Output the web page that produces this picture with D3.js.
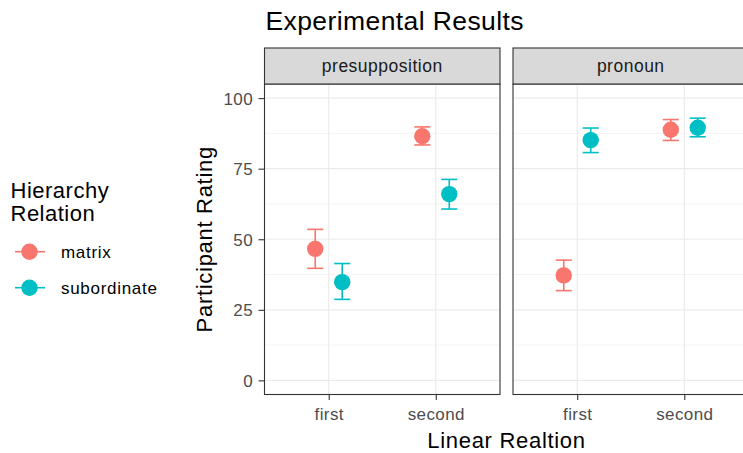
<!DOCTYPE html>
<html>
<head>
<meta charset="utf-8">
<script src="https://cdn.jsdelivr.net/npm/d3@7/dist/d3.min.js"></script>
<style>
  html, body { margin: 0; padding: 0; background: #ffffff; }
  svg { display: block; }
  text { font-family: "Liberation Sans", Arial, Helvetica, sans-serif; }
</style>
</head>
<body>
<div id="chart"></div>
<script>
// ---- data ----
const facets = ["presupposition", "pronoun"];
const linearLevels = ["first", "second"];
const hierarchyLevels = ["matrix", "subordinate"];
const seriesColors = ["#F8766D", "#00BFC4"];

// mean rating per facet, for [first, second]
const presuppositionMatrixMean = [46.6, 86.5];
const presuppositionMatrixLower = [39.7, 83.4];
const presuppositionMatrixUpper = [53.5, 89.8];
const presuppositionSubordinateMean = [34.8, 66.0];
const presuppositionSubordinateLower = [28.7, 60.7];
const presuppositionSubordinateUpper = [41.4, 71.2];

const pronounMatrixMean = [37.2, 88.8];
const pronounMatrixLower = [31.8, 85.0];
const pronounMatrixUpper = [42.6, 92.4];
const pronounSubordinateMean = [85.1, 89.5];
const pronounSubordinateLower = [80.7, 86.3];
const pronounSubordinateUpper = [89.4, 92.9];

const yTicks = [0, 25, 50, 75, 100];
const yMinor = [12.5, 37.5, 62.5, 87.5];

// ---- assemble rows ----
const table = {
  presupposition: {
    matrix: [presuppositionMatrixMean, presuppositionMatrixLower, presuppositionMatrixUpper],
    subordinate: [presuppositionSubordinateMean, presuppositionSubordinateLower, presuppositionSubordinateUpper]
  },
  pronoun: {
    matrix: [pronounMatrixMean, pronounMatrixLower, pronounMatrixUpper],
    subordinate: [pronounSubordinateMean, pronounSubordinateLower, pronounSubordinateUpper]
  }
};
const rows = [];
facets.forEach(f => hierarchyLevels.forEach(h => linearLevels.forEach((l, i) => {
  const [m, lo, hi] = table[f][h];
  rows.push({ facet: f, hierarchy: h, linear: l, mean: m[i], lower: lo[i], upper: hi[i] });
})));

// ---- layout ----
const W = 743, H = 453;
const panelW = 235.5, panelGap = 13;
const panelLeft0 = 264.5;
const stripTop = 48, panelTop = 84, panelBottom = 394.5;
const ink = "#333333", tickGrey = "#4D4D4D", gridCol = "#EBEBEB";

const svg = d3.select("#chart").append("svg")
  .attr("width", W).attr("height", H);

const y = d3.scaleLinear().domain([-5, 105]).range([panelBottom, panelTop]);
const color = d3.scaleOrdinal().domain(hierarchyLevels).range(seriesColors);

// title
svg.append("text")
  .attr("x", 265.5).attr("y", 29.5)
  .attr("font-size", 26.5).attr("letter-spacing", 0.4).attr("fill", "#000")
  .text("Experimental Results");

facets.forEach((facet, fi) => {
  const left = panelLeft0 + fi * (panelW + panelGap);
  const right = left + panelW;
  const x = d3.scalePoint().domain(linearLevels).range([left, right]).padding(0.6);
  const step = x.step();
  const dodge = d3.scalePoint().domain(hierarchyLevels).range([-0.126 * step, 0.126 * step]);
  const capHalf = 0.075 * step;

  const g = svg.append("g");

  // panel background
  g.append("rect").attr("x", left).attr("y", panelTop)
    .attr("width", panelW).attr("height", panelBottom - panelTop).attr("fill", "#fff");

  // grid
  g.selectAll(".minor").data(yMinor).join("line")
    .attr("x1", left).attr("x2", right)
    .attr("y1", d => y(d)).attr("y2", d => y(d))
    .attr("stroke", gridCol).attr("stroke-width", 0.6);
  g.selectAll(".major").data(yTicks).join("line")
    .attr("x1", left).attr("x2", right)
    .attr("y1", d => y(d)).attr("y2", d => y(d))
    .attr("stroke", gridCol).attr("stroke-width", 1.2);
  g.selectAll(".vmajor").data(linearLevels).join("line")
    .attr("x1", d => x(d)).attr("x2", d => x(d))
    .attr("y1", panelTop).attr("y2", panelBottom)
    .attr("stroke", gridCol).attr("stroke-width", 1.2);

  // error bars
  const data = rows.filter(r => r.facet === facet);
  const bars = g.selectAll(".eb").data(data).join("g")
    .attr("stroke", d => color(d.hierarchy)).attr("stroke-width", 1.6).attr("fill", "none");
  bars.append("line")
    .attr("x1", d => x(d.linear) + dodge(d.hierarchy)).attr("x2", d => x(d.linear) + dodge(d.hierarchy))
    .attr("y1", d => y(d.lower)).attr("y2", d => y(d.upper));
  bars.append("line")
    .attr("x1", d => x(d.linear) + dodge(d.hierarchy) - capHalf).attr("x2", d => x(d.linear) + dodge(d.hierarchy) + capHalf)
    .attr("y1", d => y(d.lower)).attr("y2", d => y(d.lower));
  bars.append("line")
    .attr("x1", d => x(d.linear) + dodge(d.hierarchy) - capHalf).attr("x2", d => x(d.linear) + dodge(d.hierarchy) + capHalf)
    .attr("y1", d => y(d.upper)).attr("y2", d => y(d.upper));

  // points
  g.selectAll(".pt").data(data).join("circle")
    .attr("cx", d => x(d.linear) + dodge(d.hierarchy))
    .attr("cy", d => y(d.mean))
    .attr("r", 8.2)
    .attr("fill", d => color(d.hierarchy));

  // panel border
  g.append("rect").attr("x", left).attr("y", panelTop)
    .attr("width", panelW).attr("height", panelBottom - panelTop)
    .attr("fill", "none").attr("stroke", ink).attr("stroke-width", 1.1);

  // strip
  g.append("rect").attr("x", left).attr("y", stripTop)
    .attr("width", panelW).attr("height", panelTop - stripTop)
    .attr("fill", "#D9D9D9").attr("stroke", ink).attr("stroke-width", 1.1);
  g.append("text")
    .attr("x", (left + right) / 2).attr("y", 72)
    .attr("text-anchor", "middle").attr("font-size", 17.5).attr("letter-spacing", 0.5)
    .attr("fill", "#1A1A1A").text(facet);

  // x axis
  const xAxis = d3.axisBottom(x).tickSize(5.5).tickPadding(3);
  const ax = svg.append("g").attr("transform", `translate(0,${panelBottom})`).call(xAxis);
  ax.select(".domain").remove();
  ax.selectAll(".tick line").attr("stroke", ink).attr("stroke-width", 1.1);
  ax.selectAll(".tick text")
    .attr("y", 0).attr("dy", 0).attr("transform", "translate(0,25)")
    .attr("font-size", 17).attr("letter-spacing", 0.4).attr("fill", tickGrey)
    .attr("font-family", null);
});

// y axis (left panel only)
const yAxis = d3.axisLeft(y).tickValues(yTicks).tickSize(6).tickPadding(3);
const ay = svg.append("g").attr("transform", `translate(${panelLeft0},0)`).call(yAxis);
ay.select(".domain").remove();
ay.selectAll(".tick line").attr("stroke", ink).attr("stroke-width", 1.1);
ay.selectAll(".tick text")
  .attr("x", -11.5).attr("dy", "0.36em")
  .attr("font-size", 17).attr("letter-spacing", 0.4).attr("fill", tickGrey)
  .attr("font-family", null);

// axis titles
svg.append("text")
  .attr("transform", `translate(211.5,${(panelTop + panelBottom) / 2}) rotate(-90)`)
  .attr("text-anchor", "middle").attr("font-size", 22).attr("letter-spacing", 0.7)
  .attr("fill", "#000").text("Participant Rating");
svg.append("text")
  .attr("x", (panelLeft0 + panelLeft0 + 2 * panelW + panelGap) / 2).attr("y", 447.5)
  .attr("text-anchor", "middle").attr("font-size", 22).attr("letter-spacing", 0.7)
  .attr("fill", "#000").text("Linear Realtion");

// legend
const legend = svg.append("g");
legend.append("text").attr("x", 10.5).attr("y", 197.5)
  .attr("font-size", 22).attr("letter-spacing", 0.5).attr("fill", "#000").text("Hierarchy");
legend.append("text").attr("x", 10.5).attr("y", 220.5)
  .attr("font-size", 22).attr("letter-spacing", 0.5).attr("fill", "#000").text("Relation");
const keyY = d3.scalePoint().domain(hierarchyLevels).range([251.7, 287.7]);
const keys = legend.selectAll(".key").data(hierarchyLevels).join("g")
  .attr("transform", d => `translate(0,${keyY(d)})`);
keys.append("line").attr("x1", 15).attr("x2", 45).attr("y1", 0).attr("y2", 0)
  .attr("stroke", d => color(d)).attr("stroke-width", 1.6);
keys.append("circle").attr("cx", 29.5).attr("cy", 0).attr("r", 8.2)
  .attr("fill", d => color(d));
keys.append("text").attr("x", 61).attr("y", 6)
  .attr("font-size", 17).attr("letter-spacing", 0.7).attr("fill", "#000")
  .text(d => d);
</script>
</body>
</html>
